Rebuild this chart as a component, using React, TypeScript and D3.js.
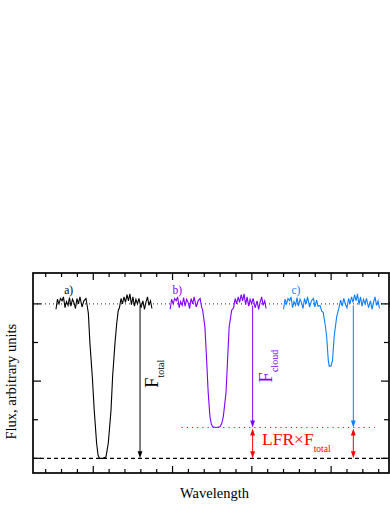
import React from "react";
import * as d3 from "d3";

// spectra: [wavelength (arb.), flux]
const specA: [number, number][] = [
  [2.65, 0.965], [2.74, 1.03], [2.84, 1.0], [2.93, 1.035], [3.03, 1.02], [3.12, 1.045], [3.22, 0.975],
  [3.31, 1.015], [3.41, 0.99], [3.5, 1.04], [3.59, 0.985], [3.69, 1.03], [3.78, 1.01], [3.88, 0.97],
  [3.97, 1.035], [4.07, 1.0], [4.16, 1.045], [4.29, 0.98], [4.41, 1.02], [4.54, 1.035], [4.63, 0.98],
  [4.69, 0.94], [4.79, 0.746], [4.94, 0.528], [5.06, 0.312], [5.21, 0.099], [5.3, 0.021], [5.39, 0.0],
  [5.61, 0.0], [5.8, 0.008], [5.95, 0.099], [6.12, 0.312], [6.22, 0.528], [6.37, 0.746], [6.48, 0.875],
  [6.58, 0.959], [6.65, 0.975], [6.75, 1.035], [6.84, 1.0], [6.94, 1.045], [7.03, 1.01], [7.13, 1.06],
  [7.22, 1.02], [7.31, 1.065], [7.41, 0.995], [7.5, 1.045], [7.6, 0.985], [7.69, 1.03], [7.79, 1.0],
  [7.88, 1.035], [8.01, 0.975], [8.13, 1.02], [8.23, 0.965], [8.32, 1.01], [8.42, 1.045], [8.51, 0.99],
  [8.61, 1.02], [8.7, 0.97],
];

const specB: [number, number][] = [
  [9.85, 0.965], [9.94, 1.03], [10.04, 1.0], [10.13, 1.035], [10.23, 1.02], [10.32, 1.045], [10.42, 0.975],
  [10.51, 1.015], [10.61, 0.99], [10.7, 1.04], [10.79, 0.985], [10.89, 1.03], [10.98, 1.01], [11.08, 0.97],
  [11.17, 1.035], [11.27, 1.0], [11.36, 1.045], [11.49, 0.98], [11.61, 1.02], [11.74, 1.035], [11.83, 0.98],
  [11.9, 0.96], [12.04, 0.851], [12.15, 0.636], [12.25, 0.422], [12.36, 0.269], [12.45, 0.22], [12.53, 0.205],
  [12.74, 0.2], [12.99, 0.204], [13.1, 0.225], [13.2, 0.269], [13.37, 0.422], [13.47, 0.636], [13.57, 0.851],
  [13.73, 0.959], [13.85, 0.975], [13.95, 1.035], [14.04, 1.0], [14.14, 1.045], [14.23, 1.01], [14.33, 1.06],
  [14.42, 1.02], [14.51, 1.065], [14.61, 0.995], [14.7, 1.045], [14.8, 0.985], [14.89, 1.03], [14.99, 1.0],
  [15.08, 1.035], [15.21, 0.975], [15.33, 1.02], [15.43, 0.965], [15.52, 1.01], [15.62, 1.045], [15.71, 0.99],
  [15.81, 1.02], [15.9, 0.97],
];

const specC: [number, number][] = [
  [17.0, 0.965], [17.09, 1.03], [17.19, 1.0], [17.28, 1.035], [17.38, 1.02], [17.47, 1.045], [17.57, 0.975],
  [17.66, 1.015], [17.76, 0.99], [17.85, 1.04], [17.94, 0.985], [18.04, 1.03], [18.13, 1.01], [18.23, 0.97],
  [18.32, 1.035], [18.42, 1.0], [18.51, 1.045], [18.64, 0.98], [18.76, 1.02], [18.89, 1.035], [18.98, 0.98],
  [19.08, 1.025], [19.18, 0.985], [19.3, 0.99], [19.4, 0.955], [19.5, 0.945], [19.62, 0.87], [19.72, 0.787],
  [19.82, 0.636], [19.88, 0.597], [19.99, 0.597], [20.09, 0.636], [20.19, 0.787], [20.35, 0.916], [20.49, 0.972],
  [20.6, 1.025], [20.7, 0.985], [20.8, 1.035], [20.9, 0.998], [21.0, 0.975], [21.1, 1.035], [21.19, 1.0],
  [21.29, 1.045], [21.38, 1.01], [21.48, 1.06], [21.57, 1.02], [21.66, 1.065], [21.76, 0.995], [21.85, 1.045],
  [21.95, 0.985], [22.04, 1.03], [22.14, 1.0], [22.23, 1.035], [22.36, 0.975], [22.48, 1.02], [22.58, 0.965],
  [22.67, 1.01], [22.77, 1.045], [22.86, 0.99], [22.96, 1.02], [23.05, 0.97],
];

const xTicks = d3.range(2, 24);
const xMajor = [5, 10, 15, 20];
const yTicks = [0, 0.25, 0.5, 0.75, 1];
const yMajor = [0, 0.5, 1];

const fluxTop = 1.0;
const fluxBottom = 0.0;
const lfrLevel = 0.2;
const arrowTotalX = 7.95;
const arrowCloudX = 15.05;
const arrowCX = 21.4;

const BLACK = "#000";
const VIOLET = "#8000ff";
const AZURE = "#0a80ff";
const RED = "#ff0000";
const FONT = "Liberation Serif, DejaVu Serif, serif";
const ts = { fontFamily: FONT };

export default function App() {
  const W = 390, H = 505;
  const left = 33, right = 389, top = 273, bottom = 473;

  const x = d3.scaleLinear().domain([1.2, 23.65]).range([left, right]);
  const y = d3.scaleLinear().domain([-0.095, 1.2]).range([bottom, top]);

  const line = d3.line<[number, number]>().x(d => x(d[0])).y(d => y(d[1]));

  // small filled arrow head, tip at (px,py), dir = 1 down, -1 up
  const head = (px: number, py: number, dir: number, color: string) => {
    const len = 7, hw = 2.4;
    return (
      <path d={`M${px},${py} L${px - hw},${py - dir * len} L${px + hw},${py - dir * len} Z`} fill={color} />
    );
  };

  return (
    <svg width={W} height={H} style={{ position: "absolute", left: 0, top: 0 }}>
      <rect x={0} y={0} width={W} height={H} fill="#fff" />

      {/* reference levels */}
      <line x1={left} x2={right} y1={y(fluxTop)} y2={y(fluxTop)} stroke="#222" strokeWidth={1} strokeDasharray="1,3" />
      <line x1={left} x2={right} y1={y(fluxBottom)} y2={y(fluxBottom)} stroke={BLACK} strokeWidth={1.1} strokeDasharray="4,3" />
      <line x1={x(10.57)} x2={x(22.76)} y1={y(lfrLevel)} y2={y(lfrLevel)} stroke={RED} strokeWidth={1} strokeDasharray="1.2,4" />

      {/* spectra */}
      <path d={line(specA) || ""} fill="none" stroke={BLACK} strokeWidth={1.1} />
      <path d={line(specB) || ""} fill="none" stroke={VIOLET} strokeWidth={1.1} />
      <path d={line(specC) || ""} fill="none" stroke={AZURE} strokeWidth={1.1} />

      {/* F_total arrow */}
      <line x1={x(arrowTotalX)} x2={x(arrowTotalX)} y1={y(0.99)} y2={y(fluxBottom) - 3} stroke={BLACK} strokeWidth={1} />
      {head(x(arrowTotalX), y(fluxBottom), 1, BLACK)}

      {/* F_cloud arrows */}
      <line x1={x(arrowCloudX)} x2={x(arrowCloudX)} y1={y(0.99)} y2={y(lfrLevel) - 3} stroke={VIOLET} strokeWidth={1} />
      {head(x(arrowCloudX), y(lfrLevel), 1, VIOLET)}
      <line x1={x(arrowCX)} x2={x(arrowCX)} y1={y(0.99)} y2={y(lfrLevel) - 3} stroke={AZURE} strokeWidth={1} />
      {head(x(arrowCX), y(lfrLevel), 1, AZURE)}

      {/* LFR double arrows */}
      {[arrowCloudX, arrowCX].map(ax => (
        <g key={ax}>
          <line x1={x(ax)} x2={x(ax)} y1={y(lfrLevel) + 4} y2={y(fluxBottom) - 4} stroke={RED} strokeWidth={1} />
          {head(x(ax), y(lfrLevel) + 1, -1, RED)}
          {head(x(ax), y(fluxBottom), 1, RED)}
        </g>
      ))}

      {/* panel labels */}
      <text style={ts} x={x(3.17)} y={y(1.067)} fontSize={11.5} fill={BLACK}>a)</text>
      <text style={ts} x={x(10.0)} y={y(1.067)} fontSize={11.5} fill={VIOLET}>b)</text>
      <text style={ts} x={x(17.5)} y={y(1.067)} fontSize={11.5} fill={AZURE}>c)</text>

      <text style={ts} transform={`translate(${x(9.1)},${y(0.455)}) rotate(-90)`} fill={BLACK}>
        <tspan fontSize={19}>F</tspan>
        <tspan fontSize={10} dy={6}>total</tspan>
      </text>
      <text style={ts} transform={`translate(${x(16.3)},${y(0.49)}) rotate(-90)`} fill={VIOLET}>
        <tspan fontSize={19}>F</tspan>
        <tspan fontSize={10} dy={6}>cloud</tspan>
      </text>
      <text style={ts} x={x(15.64)} y={y(0.086)} fill={RED}>
        <tspan fontSize={17.5}>LFR×F</tspan>
        <tspan fontSize={9.5} dy={6.5}>total</tspan>
      </text>

      {/* ticks */}
      {xTicks.map(t => {
        const len = xMajor.includes(t) ? 7 : 4;
        return (
          <g key={"x" + t}>
            <line x1={x(t)} x2={x(t)} y1={top} y2={top + len} stroke={BLACK} strokeWidth={1.2} />
            <line x1={x(t)} x2={x(t)} y1={bottom} y2={bottom - len} stroke={BLACK} strokeWidth={1.2} />
          </g>
        );
      })}
      {yTicks.map(t => {
        const len = yMajor.includes(t) ? 8 : 5;
        return (
          <g key={"y" + t}>
            <line x1={left} x2={left + len} y1={y(t)} y2={y(t)} stroke={BLACK} strokeWidth={1.2} />
            <line x1={right} x2={right - len} y1={y(t)} y2={y(t)} stroke={BLACK} strokeWidth={1.2} />
          </g>
        );
      })}

      {/* frame */}
      <rect x={left} y={top} width={right - left} height={bottom - top} fill="none" stroke={BLACK} strokeWidth={1.7} />

      {/* axis titles */}
      <text style={ts} transform={`translate(16,381.7) rotate(-90)`} textAnchor="middle" fontSize={14.5} fill={BLACK}>
        Flux, arbitrary units
      </text>
      <text style={ts} x={214.5} y={498} textAnchor="middle" fontSize={14.5} fill={BLACK}>Wavelength</text>
    </svg>
  );
}
